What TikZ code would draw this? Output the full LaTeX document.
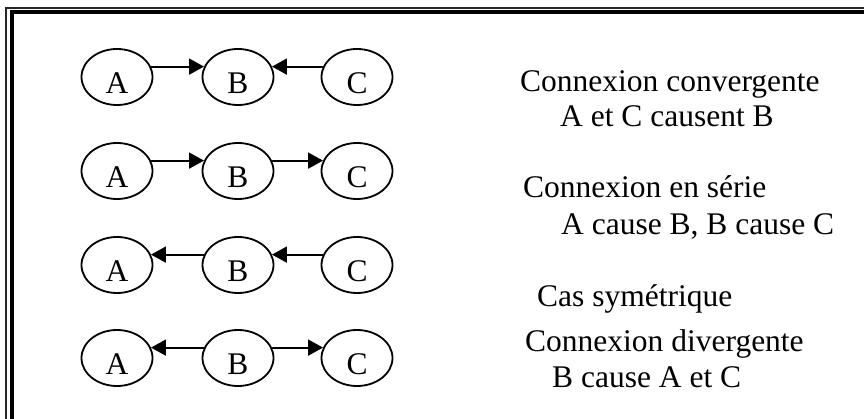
\documentclass[tikz,border=0pt]{standalone}
\usepackage{fontspec}
\setmainfont{Liberation Serif}
\usetikzlibrary{shapes.geometric,arrows.meta}
\tikzset{
  var/.style={ellipse,draw,line width=1.8pt,minimum width=71pt,minimum height=56pt,inner sep=0pt,
    text height=33pt,text depth=0pt,font=\fontsize{31.5}{36}\selectfont},
  conn/.style={line width=1.8pt,-{Triangle[length=15pt,width=16pt]}},
  lbl/.style={anchor=base west,inner sep=0pt,font=\fontsize{31.5}{36}\selectfont},
  thinframe/.style={line width=1.5pt,draw=black!85},
  thickframe/.style={line width=4pt,draw=black}
}
\begin{document}
\begin{tikzpicture}[x=1pt,y=-1pt]
\useasboundingbox (0,0) rectangle (864,419);
% frame
\draw[thinframe] (6,419) -- (6,8) -- (864,8);
\draw[thickframe] (11.5,419) -- (11.5,12.5) -- (864,12.5);
% rows
\foreach \r/\yy in {1/77,2/171,3/265,4/358}{
  \node[var] (A\r) at (117,\yy) {A};
  \node[var] (B\r) at (238,\yy) {B};
  \node[var] (C\r) at (357,\yy) {C};
}
% row 1: convergent
\draw[conn] (A1.17) -- (B1.163);
\draw[conn] (C1.163) -- (B1.17);
% row 2: serial
\draw[conn] (A2.17) -- (B2.163);
\draw[conn] (B2.17) -- (C2.163);
% row 3: symmetric
\draw[conn] (B3.163) -- (A3.17);
\draw[conn] (C3.163) -- (B3.17);
% row 4: divergent
\draw[conn] (B4.163) -- (A4.17);
\draw[conn] (B4.17) -- (C4.163);
% labels
\node[lbl] (t1) at (520,92) {Connexion convergente};
\node[lbl] (t2) at (560,127) {A et C causent B};
\node[lbl] (t3) at (523,198) {Connexion en série};
\node[lbl] (t4) at (561,235) {A cause B, B cause C};
\node[lbl] (t5) at (537,307) {Cas symétrique};
\node[lbl] (t6) at (525,352) {Connexion divergente};
\node[lbl] (t7) at (552,387) {B cause A et C};
\end{tikzpicture}
\end{document}
